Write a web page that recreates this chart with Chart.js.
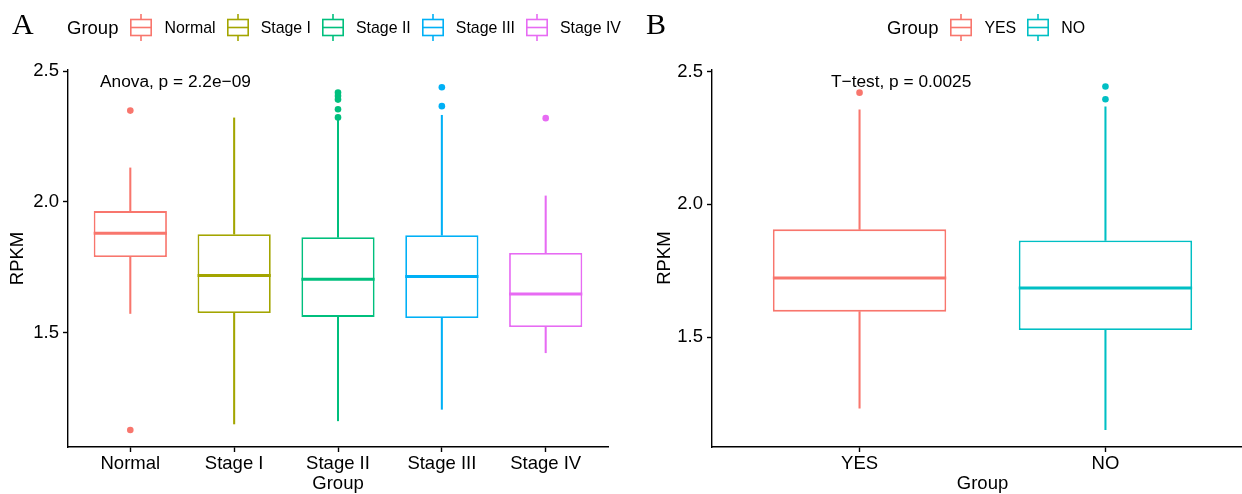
<!DOCTYPE html>
<html>
<head>
<meta charset="utf-8">
<script src="https://cdn.jsdelivr.net/npm/chart.js@4.4.0/dist/chart.umd.min.js"></script>
<style>
  html, body { margin: 0; padding: 0; background: #fff; }
  body { width: 1242px; height: 494px; overflow: hidden; position: relative;
         font-family: 'Liberation Sans', Arial, Helvetica, sans-serif; color: #000; }
  .panel { position: absolute; top: 0; height: 494px; }
  #panelA { left: 0; width: 621px; }
  #panelB { left: 621px; width: 645px; }
  .tag { position: absolute; top: 9px; font-family: 'Liberation Serif', 'Times New Roman', serif;
         font-size: 30px; line-height: 30px; }
  .legend { position: absolute; top: 14px; height: 27px; display: flex; align-items: center; white-space: nowrap; }
  .legend .title { font-size: 18.5px; margin-right: 12px; }
  .legend svg { margin-right: 12px; display: block; }
  .legend .lab { font-size: 15.9px; margin-right: 11px; }
  .note { position: absolute; top: 71px; font-size: 17.3px; line-height: 20px; white-space: nowrap; }
</style>
</head>
<body>
<div class="panel" id="panelA"><canvas id="chartA" width="621" height="494"></canvas></div>
<div class="panel" id="panelB"><canvas id="chartB" width="645" height="494"></canvas></div>
<div class="tag" style="left:12px">A</div>
<div class="tag" style="left:646px">B</div>
<div class="legend" id="legendA" style="left:67px"></div>
<div class="legend" id="legendB" style="left:887px"></div>
<div class="note" style="left:100px">Anova, p = 2.2e−09</div>
<div class="note" style="left:831px">T−test, p = 0.0025</div>
<script>
// panel A: stage groups
const groupsA = ['Normal', 'Stage I', 'Stage II', 'Stage III', 'Stage IV'];
const colorsA = ['#F8766D', '#A3A500', '#00BF7D', '#00B0F6', '#E76BF3'];
const lowA  = [1.574, 1.152, 1.164, 1.208, 1.424];
const q1A   = [1.790, 1.576, 1.561, 1.557, 1.522];
const medA  = [1.880, 1.719, 1.705, 1.715, 1.648];
const q3A   = [1.965, 1.877, 1.865, 1.873, 1.805];
const highA = [2.130, 2.321, 2.312, 2.331, 2.023];
const outA  = [[2.349, 1.129], [], [2.418, 2.405, 2.391, 2.354, 2.323], [2.438, 2.366], [2.320]];

// panel B: YES / NO
const groupsB = ['YES', 'NO'];
const colorsB = ['#F8766D', '#00BFC4'];
const lowB  = [1.232, 1.151];
const q1B   = [1.596, 1.527];
const medB  = [1.723, 1.685];
const q3B   = [1.906, 1.864];
const highB = [2.356, 2.368];
const outB  = [[2.421], [2.444, 2.396]];

const yTicks = [1.5, 2.0, 2.5];
const yTickLabels = ['1.5', '2.0', '2.5'];

Chart.defaults.font.family = "'Liberation Sans', Arial, Helvetica, sans-serif";
Chart.defaults.color = '#000';

function keySvg(c) {
  return '<svg width="22" height="27" viewBox="0 0 22 27">' +
    '<line x1="11" y1="0" x2="11" y2="5.5" stroke="' + c + '" stroke-width="1.6"/>' +
    '<rect x="0.8" y="5.5" width="20.4" height="16" fill="#fff" stroke="' + c + '" stroke-width="1.6"/>' +
    '<line x1="0.8" y1="13.5" x2="21.2" y2="13.5" stroke="' + c + '" stroke-width="1.6"/>' +
    '<line x1="11" y1="21.5" x2="11" y2="27" stroke="' + c + '" stroke-width="1.6"/></svg>';
}

function buildLegend(id, groups, colors) {
  let html = '<span class="title">Group</span>';
  groups.forEach((g, i) => {
    html += keySvg(colors[i]) + '<span class="lab">' + g + '</span>';
  });
  document.getElementById(id).innerHTML = html;
}

// median lines drawn on top of the box bars, using the bar elements' position
const medianPlugin = {
  id: 'medians',
  afterDatasetsDraw(chart) {
    const cfg = chart.config.options.medianLines;
    const meta = chart.getDatasetMeta(1);
    const y = chart.scales.y;
    const ctx = chart.ctx;
    ctx.save();
    ctx.lineWidth = 3;
    meta.data.forEach((bar, i) => {
      const py = y.getPixelForValue(cfg.values[i]);
      ctx.strokeStyle = cfg.colors[i];
      ctx.beginPath();
      ctx.moveTo(bar.x - bar.width / 2, py);
      ctx.lineTo(bar.x + bar.width / 2, py);
      ctx.stroke();
    });
    ctx.restore();
  }
};

function boxChart(id, groups, colors, low, q1, med, q3, high, outliers, s) {
  const idx = groups.map((g, i) => i);
  const outPts = [];
  outliers.forEach((arr, i) => arr.forEach(v => outPts.push({x: i, y: v})));
  const axisFont = {size: 18.5};
  return new Chart(document.getElementById(id), {
    type: 'bar',
    data: {
      datasets: [
        {
          type: 'scatter',
          data: outPts,
          pointRadius: 3.3,
          pointBorderWidth: 0,
          pointBackgroundColor: outPts.map(p => colors[p.x])
        },
        {
          data: idx.map(i => ({x: i, y: [q1[i], q3[i]]})),
          backgroundColor: '#fff',
          borderColor: colors,
          borderWidth: 1.8,
          borderSkipped: false,
          barPercentage: 0.705,
          categoryPercentage: 1,
          grouped: false
        },
        {
          data: idx.map(i => ({x: i, y: [q3[i], high[i]]})),
          backgroundColor: colors,
          borderWidth: 0,
          barThickness: 1.4,
          grouped: false
        },
        {
          data: idx.map(i => ({x: i, y: [low[i], q1[i]]})),
          backgroundColor: colors,
          borderWidth: 0,
          barThickness: 1.4,
          grouped: false
        }
      ]
    },
    options: {
      responsive: false,
      devicePixelRatio: 1,
      animation: false,
      events: [],
      medianLines: {values: med, colors: colors},
      layout: {padding: {left: 0, top: s.top, right: 13, bottom: 0}},
      plugins: {legend: {display: false}, tooltip: {enabled: false}},
      scales: {
        x: {
          type: 'linear',
          min: -0.6,
          max: groups.length - 0.4,
          offset: false,
          afterBuildTicks: sc => { sc.ticks = idx.map(i => ({value: i})); },
          afterFit: sc => { sc.height = 47; },
          ticks: {callback: v => groups[v], font: axisFont, color: '#000', padding: 1, maxRotation: 0, autoSkip: false},
          grid: {display: true, drawOnChartArea: false, drawTicks: true, tickLength: 5, tickWidth: 1.4, tickColor: '#000', offset: false},
          border: {display: true, color: '#000', width: 1.4},
          title: {display: true, text: 'Group', color: '#000', font: {size: 18.5, lineHeight: 1.1}, padding: {top: 0, bottom: 0}}
        },
        y: {
          min: s.yMin,
          max: s.yMax,
          afterBuildTicks: sc => { sc.ticks = yTicks.map(v => ({value: v})); },
          afterFit: sc => { sc.width = s.yWidth; },
          ticks: {callback: v => yTickLabels[yTicks.indexOf(v)], font: axisFont, color: '#000', padding: 4},
          grid: {display: true, drawOnChartArea: false, drawTicks: true, tickLength: 5, tickWidth: 1.4, tickColor: '#000'},
          border: {display: true, color: '#000', width: 1.4},
          title: {display: true, text: 'RPKM', color: '#000', font: axisFont, padding: {top: s.titlePad, bottom: 0}}
        }
      }
    },
    plugins: [medianPlugin]
  });
}

buildLegend('legendA', groupsA, colorsA);
buildLegend('legendB', groupsB, colorsB);

boxChart('chartA', groupsA, colorsA, lowA, q1A, medA, q3A, highA, outA,
  {top: 70, yWidth: 68, titlePad: 7, yMin: 1.064, yMax: 2.504});
boxChart('chartB', groupsB, colorsB, lowB, q1B, medB, q3B, highB, outB,
  {top: 69.3, yWidth: 91, titlePad: 32.5, yMin: 1.086, yMax: 2.509});
</script>
</body>
</html>
